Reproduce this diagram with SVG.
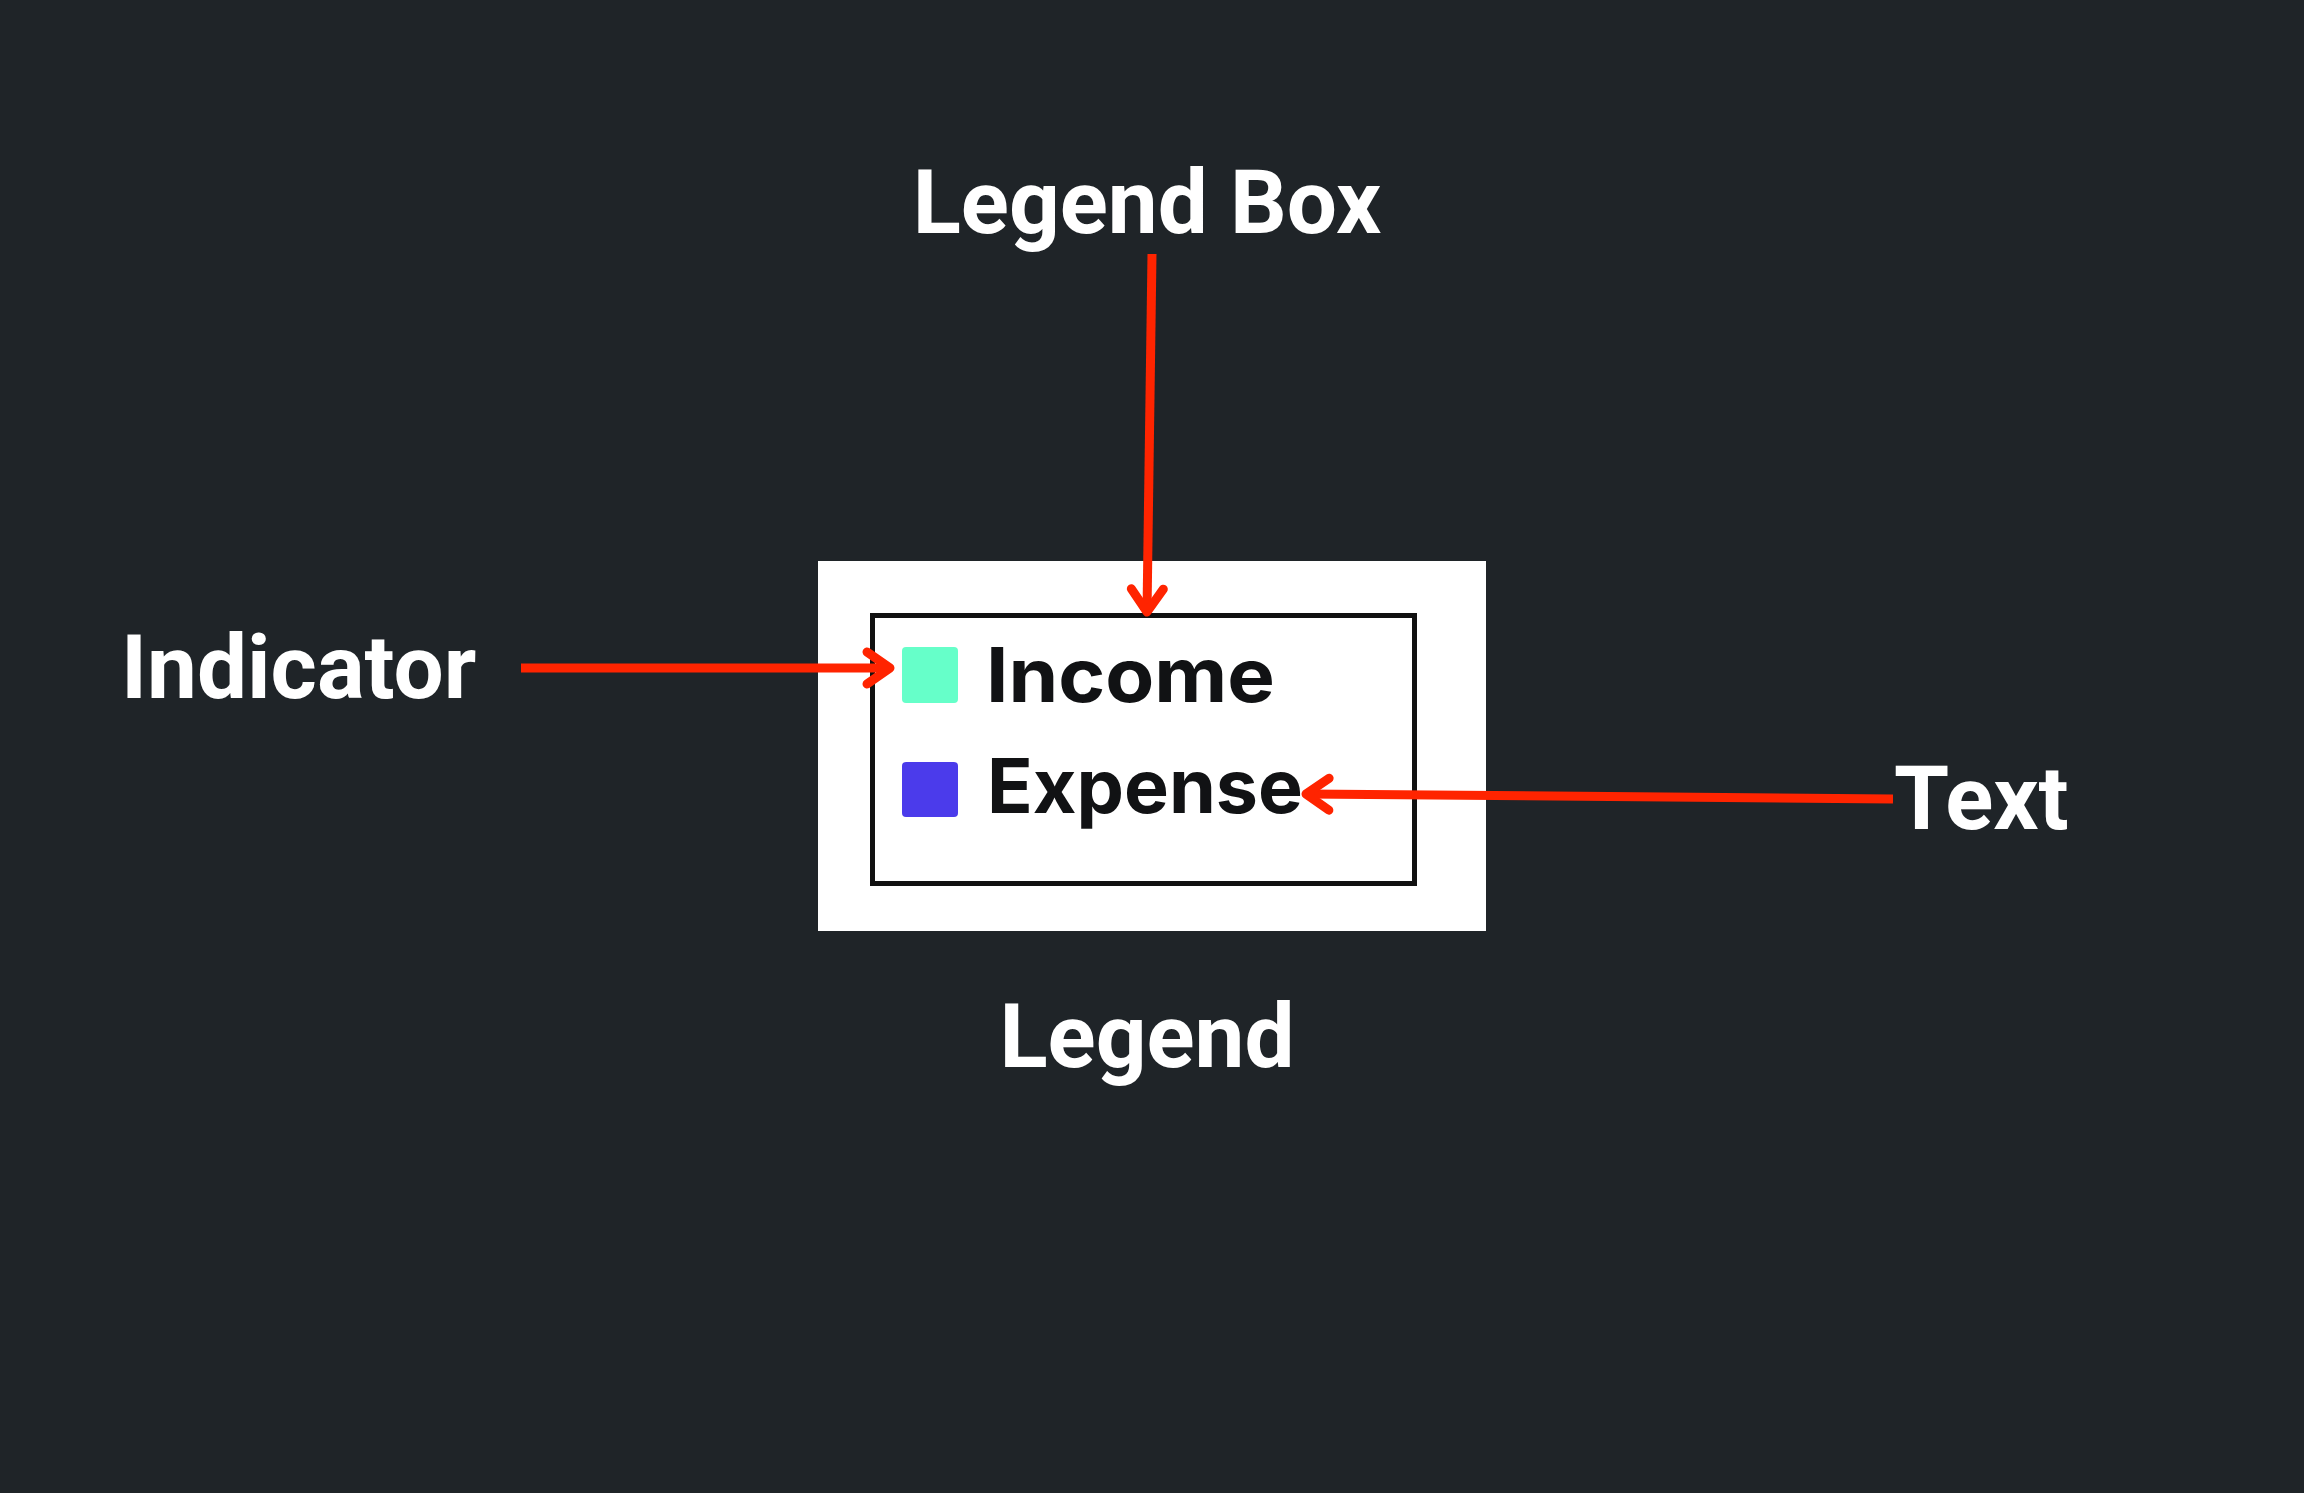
<svg xmlns="http://www.w3.org/2000/svg" width="2304" height="1493" viewBox="0 0 2304 1493">
  <style>
    .label { font-family: Roboto, "Liberation Sans", sans-serif; font-weight: 700; fill: #ffffff; font-size: 89px; }
    .item { font-family: Inter, "Liberation Sans", sans-serif; font-weight: 700; fill: #111214; font-size: 75px; }
    .conn { stroke: #ff2400; stroke-width: 9; fill: none; }
  </style>
  <defs>
    <marker id="chev" markerUnits="userSpaceOnUse" viewBox="-32 -24 40 48" refX="0" refY="0" markerWidth="40" markerHeight="48" orient="auto" overflow="visible">
      <path d="M -23 -16 L 0 0 L -23 16" fill="none" stroke="#ff2400" stroke-width="9" stroke-linecap="round" stroke-linejoin="round"/>
    </marker>
  </defs>
  <rect x="0" y="0" width="2304" height="1493" fill="#1f2428"/>

  <g id="legend-image">
    <rect x="818" y="561" width="668" height="370" fill="#ffffff"/>
    <rect x="872.5" y="615.5" width="542" height="268" fill="none" stroke="#111111" stroke-width="5"/>
    <g id="indicator-income">
      <rect x="902" y="647" width="56" height="56" rx="4" fill="#66ffc9"/>
    </g>
    <g id="indicator-expense">
      <rect x="902" y="762" width="56" height="55" rx="4" fill="#4b3beb"/>
    </g>
    <text class="item" x="986" y="702" textLength="289" lengthAdjust="spacingAndGlyphs">Income</text>
    <text class="item" x="987" y="813" textLength="316" lengthAdjust="spacingAndGlyphs">Expense</text>
  </g>

  <g id="label-legend-box">
    <text class="label" x="1147" y="233" text-anchor="middle">Legend Box</text>
  </g>
  <g id="label-indicator">
    <text class="label" x="121" y="698">Indicator</text>
  </g>
  <g id="label-text">
    <text class="label" x="1894" y="829">Text</text>
  </g>
  <g id="label-legend">
    <text class="label" x="1147" y="1067" text-anchor="middle">Legend</text>
  </g>

  <g id="connectors">
    <line class="conn" x1="1152" y1="254" x2="1147" y2="612" marker-end="url(#chev)"/>
    <line class="conn" x1="521" y1="668" x2="890" y2="668" marker-end="url(#chev)"/>
    <line class="conn" x1="1893" y1="799" x2="1306" y2="794" marker-end="url(#chev)"/>
  </g>
</svg>
